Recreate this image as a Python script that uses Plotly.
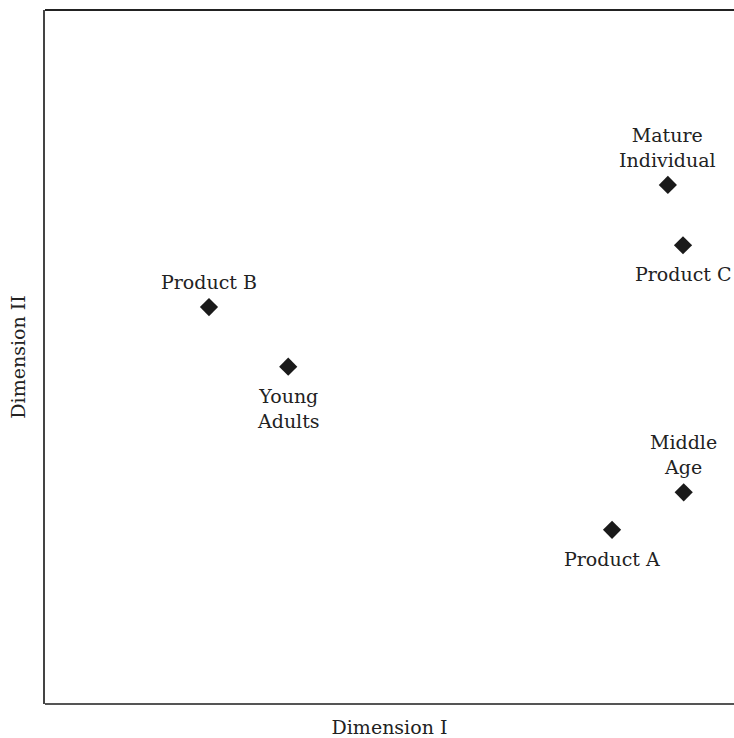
import plotly.graph_objects as go

labels = ["Product B", "Young<br>Adults", "Mature<br>Individual", "Product C", "Middle<br>Age", "Product A"]
dim1 = [23.8, 35.3, 90.4, 92.6, 92.7, 82.3]
dim2 = [57.2, 48.6, 74.8, 66.1, 30.5, 25.1]
label_side = ["top", "bottom", "top", "bottom", "top", "bottom"]

FONT = "DejaVu Serif"
FS = 19

fig = go.Figure()
fig.add_trace(go.Scatter(
    x=dim1, y=dim2, mode="markers",
    marker=dict(symbol="diamond", size=14, color="#1a1a1a"),
    cliponaxis=False, hoverinfo="skip",
))

for lab, xv, yv, side in zip(labels, dim1, dim2, label_side):
    fig.add_annotation(
        x=xv, y=yv, text=lab, showarrow=False,
        xanchor="center",
        yanchor="bottom" if side == "top" else "top",
        yshift=12 if side == "top" else -16,
        font=dict(family=FONT, size=FS, color="#222"),
    )

fig.update_layout(
    width=734, height=738,
    margin=dict(l=45, r=0, t=10, b=34),
    paper_bgcolor="white", plot_bgcolor="white",
    showlegend=False,
    font=dict(family=FONT, size=FS, color="#222"),
    xaxis=dict(range=[0, 100], showgrid=False, zeroline=False, showticklabels=False, ticks="",
               showline=False,
               title=dict(text="Dimension I", standoff=20, font=dict(family=FONT, size=FS))),
    yaxis=dict(range=[0, 100], showgrid=False, zeroline=False, showticklabels=False, ticks="",
               showline=True, linecolor="#444", linewidth=2,
               title=dict(text="Dimension II", standoff=12, font=dict(family=FONT, size=FS))),
    shapes=[
        dict(type="line", xref="paper", yref="paper", x0=0, x1=1, y0=1, y1=1, line=dict(color="#222", width=2)),
        dict(type="line", xref="paper", yref="paper", x0=0, x1=1, y0=0, y1=0, line=dict(color="#555", width=2)),
    ],
)

fig.write_html("out.html", config={"displayModeBar": False},
               post_script="document.body.style.margin='0';")
